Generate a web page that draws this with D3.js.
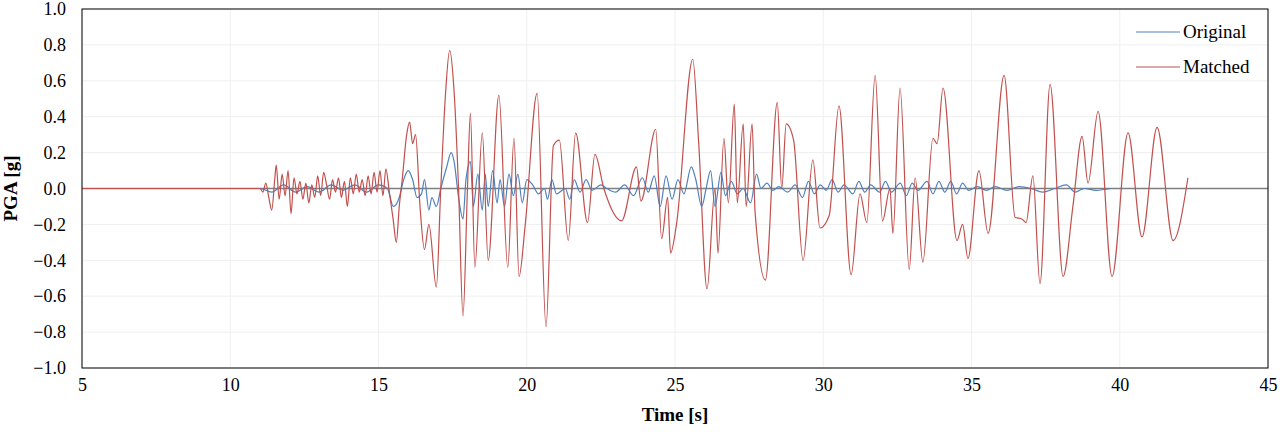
<!DOCTYPE html>
<html><head><meta charset="utf-8">
<script src="https://cdn.jsdelivr.net/npm/d3@7"></script>
<style>body{margin:0;background:#fff}text{font-family:"Liberation Serif","Times New Roman",serif}</style>
</head><body><svg width="1280" height="432"></svg>
<script>
// time [s] and value [g]
var matchedT = [5,10.9,11.0,11.1,11.2,11.3,11.4,11.5,11.55,11.65,11.75,11.85,11.95,12.05,12.15,12.25,12.35,12.45,12.55,12.65,12.75,12.85,12.95,13.05,13.15,13.25,13.35,13.45,13.55,13.65,13.75,13.85,13.95,14.05,14.15,14.25,14.35,14.45,14.55,14.65,14.75,14.85,14.95,15.05,15.15,15.25,15.35,15.5,15.6,15.7,15.8,15.95,16.05,16.15,16.25,16.4,16.55,16.7,16.95,17.1,17.25,17.4,17.55,17.7,17.85,18.0,18.1,18.25,18.5,18.7,19.06,19.36,19.57,19.74,19.95,20.35,20.65,20.9,21.1,21.4,21.65,22.05,22.3,22.6,23.2,23.7,23.85,24.35,24.55,24.75,24.85,25.05,25.6,25.8,26.08,26.35,26.45,26.65,26.8,27.0,27.1,27.3,27.4,27.6,27.7,28.05,28.45,28.6,28.75,29.0,29.32,29.65,29.89,30.2,30.53,30.94,31.24,31.47,31.75,32.0,32.25,32.35,32.59,32.9,33.1,33.36,33.7,33.84,34.04,34.51,34.7,34.88,35.25,35.56,36.1,36.47,36.7,36.84,37.07,37.31,37.65,38.09,38.42,38.73,38.93,39.27,39.74,40.28,40.75,41.26,41.8,42.3];
var matchedV = [0,0,0,-0.02,0.03,-0.05,-0.12,0.05,0.13,-0.06,0.08,-0.04,0.1,-0.14,0.06,-0.03,0.04,-0.06,0.03,-0.08,0.02,-0.05,0.07,-0.04,0.09,0.02,-0.06,0.05,-0.02,0.06,-0.05,0.04,-0.1,0.06,-0.03,0.08,-0.02,0.05,-0.04,0.07,-0.03,0.09,-0.02,0.1,-0.04,0.11,0.0,-0.18,-0.30,-0.1,0.05,0.3,0.37,0.25,0.3,-0.1,-0.34,-0.2,-0.55,0.0,0.5,0.77,0.54,0.0,-0.71,0.0,0.42,-0.44,0.31,-0.4,0.52,-0.44,0.28,-0.49,-0.2,0.53,-0.77,0.24,0.27,-0.29,0.31,-0.19,0.19,0.0,-0.18,0.12,-0.07,0.33,-0.28,-0.05,-0.36,-0.2,0.72,0.25,-0.56,0.0,-0.36,0.28,-0.08,0.47,-0.08,0.36,-0.1,0.36,-0.13,-0.51,0.48,0.0,0.36,0.27,-0.40,0.16,-0.22,-0.15,0.46,-0.48,-0.03,-0.19,0.63,-0.18,0.0,-0.25,0.56,-0.45,0.06,-0.41,0.28,0.25,0.56,-0.29,-0.2,-0.39,0.1,-0.25,0.63,-0.16,-0.17,-0.19,0.07,-0.53,0.58,-0.49,-0.1,0.29,0.03,0.43,-0.49,0.31,-0.27,0.34,-0.29,0.06];
var originalT = [5,10.9,11.0,11.4,11.8,12.2,12.6,13.0,13.4,13.8,14.2,14.6,15.0,15.3,15.5,15.7,15.85,16.0,16.15,16.3,16.45,16.55,16.7,16.8,16.95,17.1,17.3,17.45,17.55,17.7,17.85,17.95,18.1,18.2,18.35,18.5,18.6,18.7,18.85,19.0,19.1,19.25,19.4,19.55,19.7,19.85,20.0,20.2,20.4,20.6,20.7,20.85,21.0,21.3,21.45,21.6,21.8,22.0,22.2,22.5,22.7,23.0,23.3,23.6,23.9,24.1,24.3,24.5,24.7,24.9,25.1,25.3,25.55,25.7,25.9,26.05,26.2,26.35,26.55,26.7,26.9,27.1,27.3,27.55,27.75,27.9,28.1,28.3,28.5,28.8,29.05,29.3,29.5,29.7,29.9,30.1,30.3,30.5,30.7,31.0,31.2,31.4,31.6,31.9,32.1,32.3,32.6,32.8,33.0,33.2,33.5,33.7,33.9,34.1,34.3,34.5,34.7,34.9,35.2,35.5,35.8,36.2,36.6,37.0,37.4,37.8,38.2,38.5,38.8,39.2,39.7];
var originalV = [0,0,0,-0.02,0.02,-0.02,0.01,-0.02,0.02,-0.01,0.02,-0.02,0.02,0.0,-0.1,-0.05,0.05,0.1,0.05,-0.05,-0.03,0.05,-0.12,-0.05,-0.1,0.0,0.12,0.2,0.15,-0.05,-0.17,0.05,0.15,-0.1,0.08,-0.12,0.08,-0.1,0.1,-0.08,0.05,-0.1,0.08,-0.04,0.08,-0.08,0.05,0.02,-0.03,0.0,-0.06,0.05,-0.03,0.0,-0.06,0.05,-0.02,0.05,-0.01,0.02,0.0,-0.02,0.02,-0.04,0.06,-0.02,0.07,-0.1,0.07,-0.06,0.05,-0.03,0.12,0.05,-0.1,0.0,0.1,-0.1,0.09,-0.04,0.04,-0.03,0.0,-0.08,0.08,0.0,0.03,-0.01,0.01,-0.02,0.02,-0.05,0.04,-0.03,0.02,-0.01,0.05,-0.02,0.02,-0.03,0.04,-0.02,0.02,-0.02,0.04,-0.02,0.03,-0.04,0.03,-0.01,0.04,-0.03,0.04,-0.02,0.04,-0.03,0.03,-0.01,0.01,-0.01,0.01,-0.01,0.01,0.0,-0.02,0.0,0.02,-0.02,0.0,-0.01,0.0];
var xTicks = [5,10,15,20,25,30,35,40,45];
var yTicks = [-1,-0.8,-0.6,-0.4,-0.2,0,0.2,0.4,0.6,0.8,1];

var svg = d3.select("svg");
var L=82,R=1268,T=9,B=368;
var x = d3.scaleLinear().domain([5,45]).range([L,R]);
var y = d3.scaleLinear().domain([-1,1]).range([B,T]);

// grid
svg.append("g").selectAll("line").data(yTicks).enter().append("line")
	.attr("x1",L).attr("x2",R).attr("y1",function(d){return y(d);}).attr("y2",function(d){return y(d);})
	.attr("stroke","#efefef");
svg.append("g").selectAll("line").data(xTicks).enter().append("line")
	.attr("y1",T).attr("y2",B).attr("x1",function(d){return x(d);}).attr("x2",function(d){return x(d);})
	.attr("stroke","#efefef");
// zero line
svg.append("line").attr("x1",L).attr("x2",R).attr("y1",y(0)).attr("y2",y(0))
	.attr("stroke","#7f7f7f").attr("stroke-width",1.5);

var line = d3.line().x(function(d){return x(d[0]);}).y(function(d){return y(d[1]);}).curve(d3.curveMonotoneX);
var zip = function(a,b){ return a.map(function(t,k){ return [t,b[k]]; }); };

svg.append("path").datum(zip(originalT,originalV)).attr("d",line)
	.attr("fill","none").attr("stroke","#4f81bd").attr("stroke-width",1.2);
svg.append("path").datum(zip(matchedT,matchedV)).attr("d",line)
	.attr("fill","none").attr("stroke","#c0504d").attr("stroke-width",1.2);
// frame
svg.append("rect").attr("x",L).attr("y",T).attr("width",R-L).attr("height",B-T)
	.attr("fill","none").attr("stroke","#000").attr("stroke-width",1);

var ax = svg.append("g").attr("transform","translate(0,"+B+")")
	.call(d3.axisBottom(x).tickValues(xTicks).tickSize(0).tickPadding(10).tickFormat(d3.format("d")));
var ay = svg.append("g").attr("transform","translate("+L+",0)")
	.call(d3.axisLeft(y).tickValues(yTicks).tickSize(0).tickPadding(16).tickFormat(d3.format(".1f")));
[ax,ay].forEach(function(a){
	a.attr("font-family","Liberation Serif");
	a.select(".domain").remove();
	a.selectAll("text").attr("font-size",18).attr("fill","#000");
});

svg.append("text").attr("x",(L+R)/2).attr("y",421).attr("text-anchor","middle")
	.attr("font-size",19).attr("font-weight","bold").text("Time [s]");
svg.append("text").attr("transform","translate(17,"+(T+B)/2+") rotate(-90)").attr("text-anchor","middle")
	.attr("font-size",19).attr("font-weight","bold").text("PGA [g]");

var legend = [["Original","#4f81bd",32],["Matched","#c0504d",67]];
legend.forEach(function(d){
	svg.append("line").attr("x1",1136).attr("x2",1180).attr("y1",d[2]).attr("y2",d[2]).attr("stroke",d[1]).attr("stroke-width",1.2);
	svg.append("text").attr("x",1183).attr("y",d[2]+6).attr("font-size",19).text(d[0]);
});
</script></body></html>
